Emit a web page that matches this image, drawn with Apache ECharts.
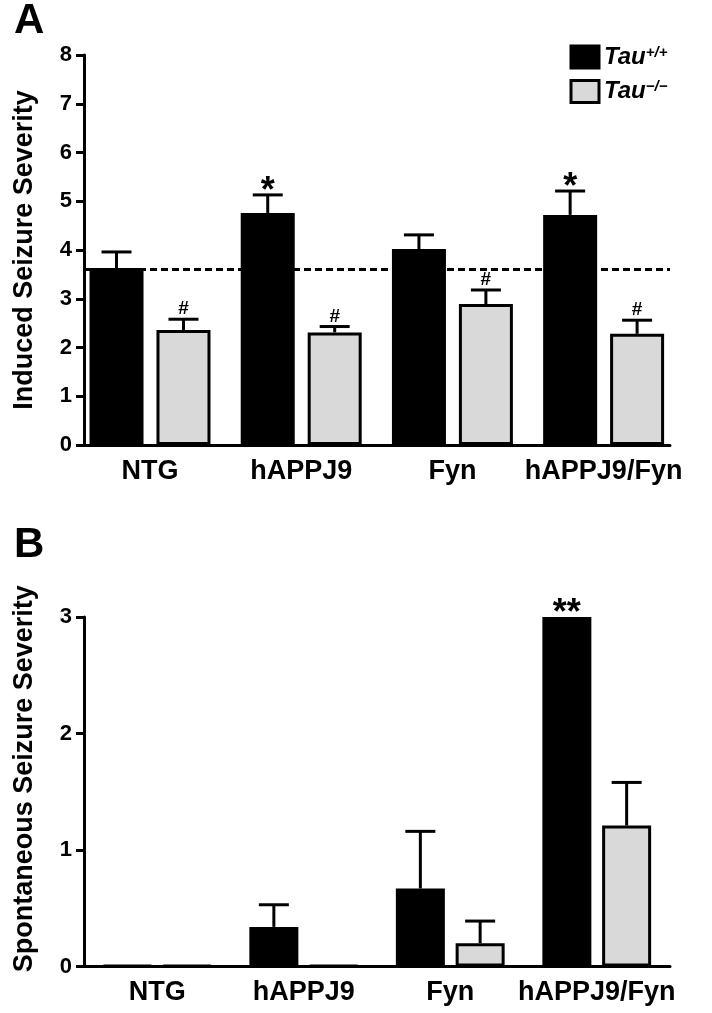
<!DOCTYPE html>
<html><head><meta charset="utf-8">
<script src="https://cdn.jsdelivr.net/npm/echarts@6/dist/echarts.min.js"></script>
<style>html,body{margin:0;padding:0;background:#fff}#c{width:712px;height:1013px}</style>
</head><body><div id="c"></div>
<script>
// ---------- data ----------
const categories = ['NTG', 'hAPPJ9', 'Fyn', 'hAPPJ9/Fyn'];
const seriesNames = ['Tau+/+', 'Tau-/-'];

// Panel A: induced seizure severity
const inducedWT = [3.63, 4.76, 4.02, 4.72];
const inducedWTsem = [0.33, 0.37, 0.29, 0.49];
const inducedKO = [2.36, 2.31, 2.89, 2.28];
const inducedKOsem = [0.22, 0.12, 0.29, 0.28];
const inducedWTsig = ['', '*', '', '*'];
const inducedKOsig = ['#', '#', '#', '#'];
const inducedBaseline = 3.61;
const inducedYMax = 8;

// Panel B: spontaneous seizure severity
const spontWT = [0, 0.34, 0.67, 3.0];
const spontWTsem = [0, 0.19, 0.49, 0];
const spontKO = [0, 0, 0.20, 1.21];
const spontKOsem = [0, 0, 0.19, 0.37];
const spontWTsig = ['', '', '', '**'];
const spontKOsig = ['', '', '', ''];
const spontYMax = 3;

// ---------- style ----------
const F = '"Liberation Sans", Arial, Helvetica, sans-serif';
const GRAY = '#d9d9d9';
const BW_A = 54, GAP_A = 0.24;
const BW_B = 49, GAP_B = 0.22;
const OFF_A = (BW_A + BW_A * GAP_A) / 2;
const OFF_B = (BW_B + BW_B * GAP_B) / 2;

function errSeries(xi, yi, means, sems, sigs, offset) {
  return {
    type: 'custom', xAxisIndex: xi, yAxisIndex: yi, z: 5, silent: true,
    data: means.map((m, i) => [i, m, sems[i]]),
    renderItem: function (params, api) {
      const i = params.dataIndex;
      const m = api.value(1), s = api.value(2);
      const base = api.coord([api.value(0), m]);
      const top = api.coord([api.value(0), m + s]);
      const x = base[0] + offset;
      const children = [];
      if (s > 0) {
        children.push({ type: 'line', shape: { x1: x, y1: base[1], x2: x, y2: top[1] }, style: { stroke: '#000', lineWidth: 3 } });
        children.push({ type: 'line', shape: { x1: x - 15, y1: top[1], x2: x + 15, y2: top[1] }, style: { stroke: '#000', lineWidth: 3 } });
      }
      const sig = sigs[i];
      if (sig) {
        const star = sig.indexOf('*') >= 0;
        children.push({
          type: 'text',
          style: {
            text: sig, x: x, y: top[1] + (star ? -3 : -10),
            fill: '#000', fontSize: star ? 36 : 19, fontWeight: 'bold', fontFamily: F,
            align: 'center', verticalAlign: 'middle'
          }
        });
      }
      return { type: 'group', children: children };
    }
  };
}

const axisLineStyle = { show: true, onZero: false, lineStyle: { color: '#000', width: 3 } };
const yLabel = { color: '#000', fontSize: 22, fontWeight: 'bold', fontFamily: F, margin: 12 };
const xLabel = { color: '#000', fontSize: 27, fontWeight: 'bold', fontFamily: F, margin: 13, interval: 0 };
const nameStyle = { color: '#000', fontSize: 27, fontWeight: 'bold', fontFamily: F };

const option = {
  animation: false,
  backgroundColor: '#fff',
  title: [
    { text: 'A', left: 14, top: 0, padding: 0, textStyle: { fontSize: 42, fontWeight: 'bold', fontFamily: F, color: '#000' } },
    { text: 'B', left: 14, top: 524, padding: 0, textStyle: { fontSize: 42, fontWeight: 'bold', fontFamily: F, color: '#000' } }
  ],
  legend: {
    orient: 'vertical', left: 569.5, top: 44.5, padding: 0,
    itemWidth: 28, itemHeight: 22, itemGap: 9.5, icon: 'rect', selectedMode: false,
    data: [
      { name: seriesNames[0], itemStyle: { color: '#000', borderColor: '#000', borderWidth: 3 } },
      { name: seriesNames[1], itemStyle: { color: GRAY, borderColor: '#000', borderWidth: 3 } }
    ],
    formatter: function (n) { return n === seriesNames[0] ? '{t|Tau}{s|+/+}' : '{t|Tau}{s|\u2212/\u2212}'; },
    textStyle: {
      rich: {
        t: { fontSize: 24, fontStyle: 'italic', fontWeight: 'bold', fontFamily: F, color: '#000', lineHeight: 24 },
        s: { fontSize: 15, fontStyle: 'italic', fontWeight: 'bold', fontFamily: F, color: '#000', lineHeight: 15, verticalAlign: 'top' }
      }
    }
  },
  grid: [
    { left: 84, top: 55, width: 586, height: 390 },
    { left: 84, top: 617, width: 586, height: 349.5 }
  ],
  xAxis: [
    {
      gridIndex: 0, type: 'value', min: -0.4365, max: 3.439,
      axisLine: axisLineStyle, axisTick: { show: false }, splitLine: { show: false },
      axisLabel: Object.assign({}, xLabel, { customValues: [0, 1, 2, 3], formatter: function (v) { return categories[Math.round(v)]; } })
    },
    {
      gridIndex: 1, type: 'category', data: categories,
      axisLine: axisLineStyle, axisTick: { show: false }, splitLine: { show: false },
      axisLabel: xLabel
    }
  ],
  yAxis: [
    {
      gridIndex: 0, type: 'value', min: 0, max: inducedYMax, interval: 1,
      name: 'Induced Seizure Severity', nameLocation: 'middle', nameGap: 46, nameTextStyle: nameStyle,
      axisLine: axisLineStyle, axisTick: { show: true, length: 8, lineStyle: { color: '#000', width: 3 } },
      splitLine: { show: false }, axisLabel: yLabel
    },
    {
      gridIndex: 1, type: 'value', min: 0, max: spontYMax, interval: 1,
      name: 'Spontaneous Seizure Severity', nameLocation: 'middle', nameGap: 46,
      nameTextStyle: Object.assign({}, nameStyle, { padding: [0, 0, 0, 26] }),
      axisLine: axisLineStyle, axisTick: { show: true, length: 8, lineStyle: { color: '#000', width: 3 } },
      splitLine: { show: false }, axisLabel: yLabel
    }
  ],
  series: [
    {
      type: 'bar', name: seriesNames[0], xAxisIndex: 0, yAxisIndex: 0,
      data: inducedWT.map((v, i) => [i, v]), barWidth: BW_A, barGap: (GAP_A * 100) + '%',
      itemStyle: { color: '#000', borderColor: '#000', borderWidth: 3 },
      markLine: {
        silent: true, symbol: 'none', label: { show: false },
        lineStyle: { color: '#000', width: 3, type: [7, 4] },
        data: [{ yAxis: inducedBaseline }]
      }
    },
    {
      type: 'bar', name: seriesNames[1], xAxisIndex: 0, yAxisIndex: 0,
      data: inducedKO.map((v, i) => [i, v]), barWidth: BW_A, barGap: (GAP_A * 100) + '%',
      itemStyle: { color: GRAY, borderColor: '#000', borderWidth: 3 }
    },
    errSeries(0, 0, inducedWT, inducedWTsem, inducedWTsig, -OFF_A),
    errSeries(0, 0, inducedKO, inducedKOsem, inducedKOsig, OFF_A),
    {
      type: 'bar', name: seriesNames[0], xAxisIndex: 1, yAxisIndex: 1,
      data: spontWT, barWidth: BW_B, barGap: (GAP_B * 100) + '%', barMinHeight: 1,
      itemStyle: { color: '#000', borderColor: '#000', borderWidth: 3 }
    },
    {
      type: 'bar', name: seriesNames[1], xAxisIndex: 1, yAxisIndex: 1,
      data: spontKO, barWidth: BW_B, barGap: (GAP_B * 100) + '%', barMinHeight: 1,
      itemStyle: { color: GRAY, borderColor: '#000', borderWidth: 3 }
    },
    errSeries(1, 1, spontWT, spontWTsem, spontWTsig, -OFF_B),
    errSeries(1, 1, spontKO, spontKOsem, spontKOsig, OFF_B)
  ]
};
const chart = echarts.init(document.getElementById('c'), null, { renderer: 'canvas' });
chart.setOption(option);
</script>
</body></html>
